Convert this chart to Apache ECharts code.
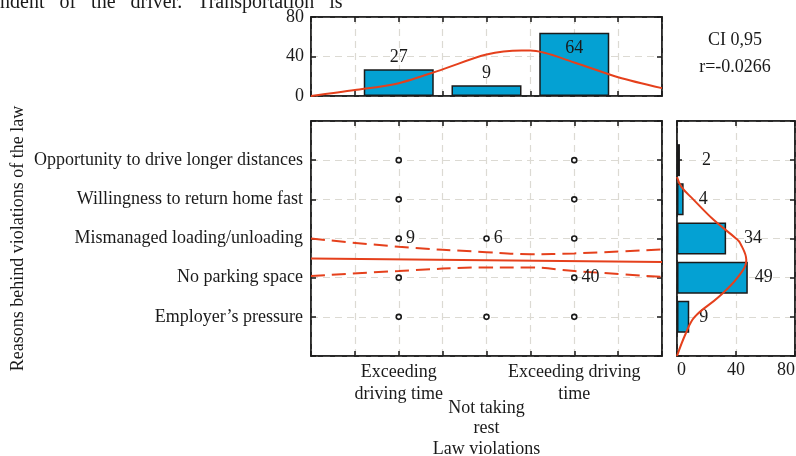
<!DOCTYPE html>
<html>
<head>
<meta charset="utf-8">
<script src="https://cdn.jsdelivr.net/npm/echarts@6/dist/echarts.min.js"></script>
<style>
  html, body { margin: 0; padding: 0; background: #fff; }
  #main { width: 796px; height: 456px; }
</style>
</head>
<body>
<div id="main"></div>
<script>
// y categories (bottom to top) and their positions on the 0..6 axis
const reasons = [
  "Employer’s pressure",
  "No parking space",
  "Mismanaged loading/unloading",
  "Willingness to return home fast",
  "Opportunity to drive longer distances",
];
const reasonPos = [1, 2, 3, 4, 5];
// x categories and their positions on the 0..8 axis
const violations = ["Exceeding\ndriving time", "Not taking\nrest", "Exceeding driving\ntime"];
const violationPos = [2, 4, 6];

// scatter points in the main panel
const pointX = [2, 6, 2, 6, 2, 4, 6, 2, 6, 2, 4, 6];
const pointY = [5, 5, 4, 4, 3, 3, 3, 2, 2, 1, 1, 1];
const pointLabel = ["", "", "", "", "9", "6", "", "", "40", "", "", ""];

// regression line and confidence band
const regX = [0, 8];
const regY = [2.49, 2.4];
const ciX = [0, 2, 4, 5, 6, 8];
const ciUpper = [3.0, 2.79, 2.65, 2.6, 2.62, 2.72];
const ciLower = [2.04, 2.17, 2.26, 2.26, 2.17, 2.02];

// top histogram
const topHeights = [27, 11, 64];
const topLabels = ["27", "9", "64"];
const topCurveX = [0, 1, 2, 3, 4, 4.8, 5, 6, 7, 8];
const topCurveY = [0, 6, 13, 27, 42, 46, 46, 34, 19, 8];

// right histogram
const rightValues = [8.3, 48, 33.3, 4.5, 2];
const rightLabels = ["9", "49", "34", "4", "2"];
const rightCurveX = [0, 6, 12, 28, 41, 47, 43, 40, 25, 11, 3, 0];
const rightCurveY = [0, 0.58, 1, 1.5, 2, 2.45, 2.87, 3, 3.47, 4, 4.32, 4.57];

const FONT = "'Liberation Serif', 'Times New Roman', serif";
const RED = "#e5401c";
const BLUE = "#04a1d3";
const INK = "#1a1a1a";
const GRIDC = "#dcdad3";
// gap between each right-hand bar and its count label, px
const rightLabelGap = [10, 7, 18, 15, 22];

var myChart = echarts.init(document.getElementById("main"));

const frame = {
  show: true,
  borderColor: INK,
  borderWidth: 1.5,
  backgroundColor: "transparent",
  outerBoundsMode: "none",
  containLabel: false,
};
const dashSplit = { show: true, lineStyle: { color: GRIDC, type: [7, 5], width: 1.2 } };
const tickIn = { show: true, inside: true, length: 5, lineStyle: { color: INK, width: 1.5 } };
const lineBlack = { show: true, onZero: false, lineStyle: { color: INK, width: 1.5 } };
const txt = { fontFamily: FONT, fontSize: 18, color: INK };

// a mirrored axis: ticks only
function mirror(extra) {
  return Object.assign(
    {
      type: "value",
      axisLine: lineBlack,
      axisTick: tickIn,
      axisLabel: { show: false },
      splitLine: { show: false },
    },
    extra
  );
}

const option = {
  animation: false,
  backgroundColor: "#fff",
  textStyle: { fontFamily: FONT },
  grid: [
    Object.assign({ left: 311, top: 121, width: 351, height: 235 }, frame), // main
    Object.assign({ left: 311, top: 17, width: 351, height: 79 }, frame), // top hist
    Object.assign({ left: 677, top: 121, width: 118, height: 235 }, frame), // right hist
  ],
  xAxis: [
    {
      // 0 main bottom
      type: "value",
      gridIndex: 0,
      min: 0,
      max: 8,
      interval: 1,
      position: "bottom",
      axisLine: lineBlack,
      axisTick: tickIn,
      splitLine: dashSplit,
      axisLabel: Object.assign({}, txt, {
        lineHeight: 22,
        margin: 5,
        formatter: function (v) {
          const i = violationPos.indexOf(v);
          return i === 0 || i === 2 ? violations[i] : "";
        },
      }),
    },
    mirror({ gridIndex: 0, min: 0, max: 8, interval: 1, position: "top" }), // 1
    {
      // 2 lower label row for the middle category + axis name
      type: "value",
      gridIndex: 0,
      min: 0,
      max: 8,
      interval: 1,
      position: "bottom",
      offset: 36,
      axisLine: { show: false, onZero: false },
      axisTick: { show: false },
      splitLine: { show: false },
      axisLabel: Object.assign({}, txt, {
        lineHeight: 20,
        margin: 6,
        formatter: function (v) {
          return violationPos.indexOf(v) === 1 ? violations[1] : "";
        },
      }),
      name: "Law violations",
      nameLocation: "middle",
      nameGap: 48,
      nameMoveOverlap: false,
      nameTextStyle: txt,
    },
    {
      // 3 top hist bottom
      type: "value",
      gridIndex: 1,
      min: 0,
      max: 8,
      interval: 1,
      axisLine: lineBlack,
      axisTick: tickIn,
      axisLabel: { show: false },
      splitLine: dashSplit,
    },
    mirror({ gridIndex: 1, min: 0, max: 8, interval: 1, position: "top" }), // 4
    {
      // 5 right hist bottom
      type: "value",
      gridIndex: 2,
      min: 0,
      max: 80,
      interval: 40,
      axisLine: lineBlack,
      axisTick: tickIn,
      splitLine: dashSplit,
      axisLabel: Object.assign({}, txt, { margin: 5, alignMinLabel: "left", alignMaxLabel: "right" }),
    },
    mirror({ gridIndex: 2, min: 0, max: 80, interval: 40, position: "top" }), // 6
  ],
  yAxis: [
    {
      // 0 main left
      type: "value",
      gridIndex: 0,
      min: 0,
      max: 6,
      interval: 1,
      axisLine: lineBlack,
      axisTick: tickIn,
      splitLine: dashSplit,
      axisLabel: Object.assign({}, txt, {
        margin: 8,
        formatter: function (v) {
          const i = reasonPos.indexOf(v);
          return i >= 0 ? reasons[i] : "";
        },
      }),
      name: "Reasons behind violations of the law",
      nameLocation: "middle",
      nameRotate: 90,
      nameGap: 284,
      nameMoveOverlap: false,
      nameTextStyle: txt,
    },
    mirror({ gridIndex: 0, min: 0, max: 6, interval: 1, position: "right" }), // 1
    {
      // 2 top hist left
      type: "value",
      gridIndex: 1,
      min: 0,
      max: 80,
      interval: 40,
      axisLine: lineBlack,
      axisTick: tickIn,
      splitLine: dashSplit,
      axisLabel: Object.assign({}, txt, { margin: 7 }),
    },
    mirror({ gridIndex: 1, min: 0, max: 80, interval: 40, position: "right" }), // 3
    {
      // 4 right hist left (category for horizontal bars)
      type: "category",
      gridIndex: 2,
      data: ["0", "1", "2", "3", "4", "5", "6"],
      boundaryGap: false,
      axisLine: lineBlack,
      axisTick: tickIn,
      axisLabel: { show: false },
      splitLine: dashSplit,
    },
    mirror({ gridIndex: 2, min: 0, max: 6, interval: 1, position: "right" }), // 5
  ],
  series: [
    {
      type: "line",
      xAxisIndex: 0,
      yAxisIndex: 0,
      data: regX.map((x, i) => [x, regY[i]]),
      symbol: "none",
      lineStyle: { color: RED, width: 2 },
      z: 3,
    },
    {
      type: "line",
      xAxisIndex: 0,
      yAxisIndex: 0,
      data: ciX.map((x, i) => [x, ciUpper[i]]),
      symbol: "none",
      smooth: 0.4,
      lineStyle: { color: RED, width: 2, type: [14, 7] },
      z: 3,
    },
    {
      type: "line",
      xAxisIndex: 0,
      yAxisIndex: 0,
      data: ciX.map((x, i) => [x, ciLower[i]]),
      symbol: "none",
      smooth: 0.4,
      lineStyle: { color: RED, width: 2, type: [14, 7] },
      z: 3,
    },
    {
      type: "scatter",
      xAxisIndex: 0,
      yAxisIndex: 0,
      data: pointX.map((x, i) => [x, pointY[i], pointLabel[i]]),
      symbol: "circle",
      symbolSize: 5,
      itemStyle: { color: "#fff", borderColor: INK, borderWidth: 1.6, opacity: 1 },
      label: Object.assign({}, txt, {
        show: true,
        position: "right",
        distance: 4,
        formatter: (p) => p.data[2],
      }),
      z: 4,
    },
    {
      type: "bar",
      xAxisIndex: 3,
      yAxisIndex: 2,
      barWidth: 70,
      data: violationPos.map((x, i) => ({
        value: [x, topHeights[i]],
        label: { position: i === 2 ? "insideTop" : "top", distance: i === 2 ? 6 : 3 },
      })),
      itemStyle: { color: BLUE, borderColor: INK, borderWidth: 1.5 },
      label: Object.assign({}, txt, {
        show: true,
        formatter: (p) => topLabels[p.dataIndex],
      }),
    },
    {
      type: "line",
      xAxisIndex: 3,
      yAxisIndex: 2,
      data: topCurveX.map((x, i) => [x, topCurveY[i]]),
      symbol: "none",
      smooth: 0.3,
      lineStyle: { color: RED, width: 2 },
      z: 3,
    },
    {
      type: "bar",
      xAxisIndex: 5,
      yAxisIndex: 4,
      barWidth: 32,
      data: reasonPos.map((y, i) => ({
        value: [rightValues[i], y],
        label: { distance: rightLabelGap[i] },
      })),
      itemStyle: { color: BLUE, borderColor: INK, borderWidth: 1.5 },
      label: Object.assign({}, txt, {
        show: true,
        position: "right",
        formatter: (p) => rightLabels[p.dataIndex],
      }),
    },
    {
      type: "line",
      xAxisIndex: 5,
      yAxisIndex: 5,
      data: rightCurveX.map((x, i) => [x, rightCurveY[i]]),
      symbol: "none",
      smooth: 0.4,
      lineStyle: { color: RED, width: 2 },
      z: 3,
    },
  ],
  graphic: [
    {
      type: "text",
      left: 0,
      top: -7,
      style: {
        text: "ndent   of   the   driver.   Transportation   is",
        fontFamily: FONT,
        fontSize: 20,
        fill: INK,
      },
    },
    {
      type: "text",
      x: 735,
      y: 40,
      style: { text: "CI 0,95", fontFamily: FONT, fontSize: 18, fill: INK, align: "center", verticalAlign: "middle" },
    },
    {
      type: "text",
      x: 735,
      y: 67,
      style: { text: "r=-0.0266", fontFamily: FONT, fontSize: 18, fill: INK, align: "center", verticalAlign: "middle" },
    },
  ],
};

myChart.setOption(option);
</script>
</body>
</html>
